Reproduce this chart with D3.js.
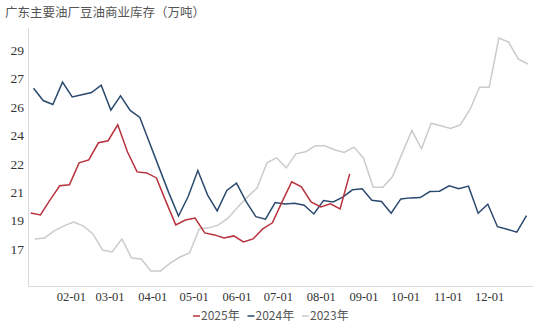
<!DOCTYPE html>
<meta charset="utf-8">
<body style="margin:0;background:#fff">
<svg id="chart" width="554" height="332"></svg>
<script src="https://d3js.org/d3.v7.min.js"></script>
<script>
// weekly series, first Friday of each year
var series2025 = [19.36, 19.24, 20.14, 20.98, 21.04, 22.35, 22.53, 23.55, 23.67, 24.62,
  23.01, 21.81, 21.75, 21.45, 20.02, 18.65, 18.94, 19.06, 18.17, 18.05,
  17.87, 17.99, 17.63, 17.81, 18.41, 18.77, 20.02, 21.22, 20.92, 20.02,
  19.72, 19.9, 19.6, 21.69];
var series2024 = [26.8, 26.07, 25.83, 27.17, 26.28, 26.41, 26.55, 26.99, 25.5, 26.35,
  25.48, 25.06, 23.55, 22.05, 20.56, 19.18, 20.34, 21.89, 20.44, 19.48,
  20.7, 21.14, 20.04, 19.14, 18.99, 19.98, 19.9, 19.94, 19.82, 19.3,
  20.1, 20.02, 20.3, 20.74, 20.8, 20.12, 20.04, 19.34, 20.2, 20.26,
  20.28, 20.64, 20.66, 20.98, 20.8, 20.96, 19.34, 19.88, 18.54, 18.39,
  18.21, 19.2];
var series2023 = [17.81, 17.87, 18.29, 18.59, 18.82, 18.59, 18.11, 17.15, 17.03, 17.81,
  16.67, 16.61, 15.9, 15.9, 16.37, 16.73, 16.97, 18.41, 18.47, 18.65,
  19.06, 19.72, 20.32, 20.86, 22.35, 22.65, 22.05, 22.89, 23.01, 23.37,
  23.37, 23.13, 22.97, 23.29, 22.63, 20.9, 20.9, 21.53, 22.93, 24.28,
  23.19, 24.72, 24.56, 24.4, 24.62, 25.52, 26.87, 26.87, 29.8, 29.56,
  28.55, 28.25];
var startDates = ["2025-01-03", "2024-01-05", "2023-01-06"];
var seriesNames = ["2025年", "2024年", "2023年"];
var seriesColors = ["#b7323c", "#2b4a6f", "#cbcbcb"];

var monthLabels = ["02-01", "03-01", "04-01", "05-01", "06-01", "07-01",
  "08-01", "09-01", "10-01", "11-01", "12-01"];
var yTickValues = [17.2, 18.9, 20.6, 22.3, 24.0, 25.7, 27.4, 29.1];

var svg = d3.select("#chart");
var plotLeft = 28, plotRight = 532, plotTop = 28, plotBottom = 286;

var x = d3.scaleLinear().domain([0, 365]).range([plotLeft, plotRight]);
var y = d3.scaleLinear().domain([15, 30.4]).range([plotBottom, plotTop]);

// day of year helper
function dayOfYear(date) {
  var jan1 = new Date(Date.UTC(date.getUTCFullYear(), 0, 1));
  return (date - jan1) / 86400000;
}

var allSeries = [series2025, series2024, series2023].map(function(vals, k) {
  var start = new Date(startDates[k] + "T00:00:00Z");
  return {
    name: seriesNames[k],
    color: seriesColors[k],
    points: vals.map(function(v, i) {
      var d = new Date(start.getTime() + i * 7 * 86400000);
      return { day: dayOfYear(d), value: v };
    })
  };
});

// title
svg.append("text")
  .attr("x", 5).attr("y", 17)
  .style("font-family", "'Noto Sans CJK SC', sans-serif")
  .style("font-size", "12.5px")
  .style("fill", "#555")
  .text("广东主要油厂豆油商业库存（万吨）");

// axes
var monthStarts = monthLabels.map(function(m) {
  return dayOfYear(new Date("2025-" + m + "T00:00:00Z"));
});

var xAxis = svg.append("g")
  .attr("transform", "translate(0," + plotBottom + ")")
  .call(d3.axisBottom(x).tickValues(monthStarts).tickSize(0)
    .tickFormat(function(d, i) { return monthLabels[i]; }));
xAxis.select(".domain").attr("stroke", "#d9d9d9").attr("d", "M" + plotLeft + ",0.5H" + (plotRight + 1));
xAxis.selectAll("text")
  .attr("dy", "0")
  .attr("y", 15)
  .style("font-family", "'Liberation Serif', serif")
  .style("font-size", "12.5px")
  .style("fill", "#333");

var yAxis = svg.append("g")
  .attr("transform", "translate(" + plotLeft + ",0)")
  .call(d3.axisLeft(y).tickValues(yTickValues).tickSize(0).tickFormat(d3.format(".0f")));
yAxis.select(".domain").attr("stroke", "#d9d9d9").attr("d", "M0.5," + plotTop + "V" + plotBottom);
yAxis.selectAll("text")
  .attr("x", -4)
  .style("font-family", "'Liberation Serif', serif")
  .style("font-size", "13.5px")
  .style("fill", "#333");

// lines, drawn oldest first
var line = d3.line()
  .x(function(d) { return x(d.day); })
  .y(function(d) { return y(d.value); });

svg.selectAll(".series")
  .data(allSeries.slice().reverse())
  .enter().append("path")
  .attr("class", "series")
  .attr("d", function(d) { return line(d.points); })
  .attr("fill", "none")
  .attr("stroke", function(d) { return d.color; })
  .attr("stroke-width", 1.5);

// legend
var legend = svg.selectAll(".legend")
  .data(allSeries)
  .enter().append("g")
  .attr("class", "legend")
  .attr("transform", function(d, i) { return "translate(" + (193 + i * 54.5) + ",316)"; });
legend.append("line")
  .attr("x1", 0).attr("x2", 7)
  .attr("stroke", function(d) { return d.color; })
  .attr("stroke-width", 1.5);
legend.append("text")
  .attr("x", 8).attr("dy", "0.35em")
  .style("font-family", "'Noto Sans CJK SC', sans-serif")
  .style("font-size", "12px")
  .style("fill", "#555")
  .text(function(d) { return d.name; });
</script>
